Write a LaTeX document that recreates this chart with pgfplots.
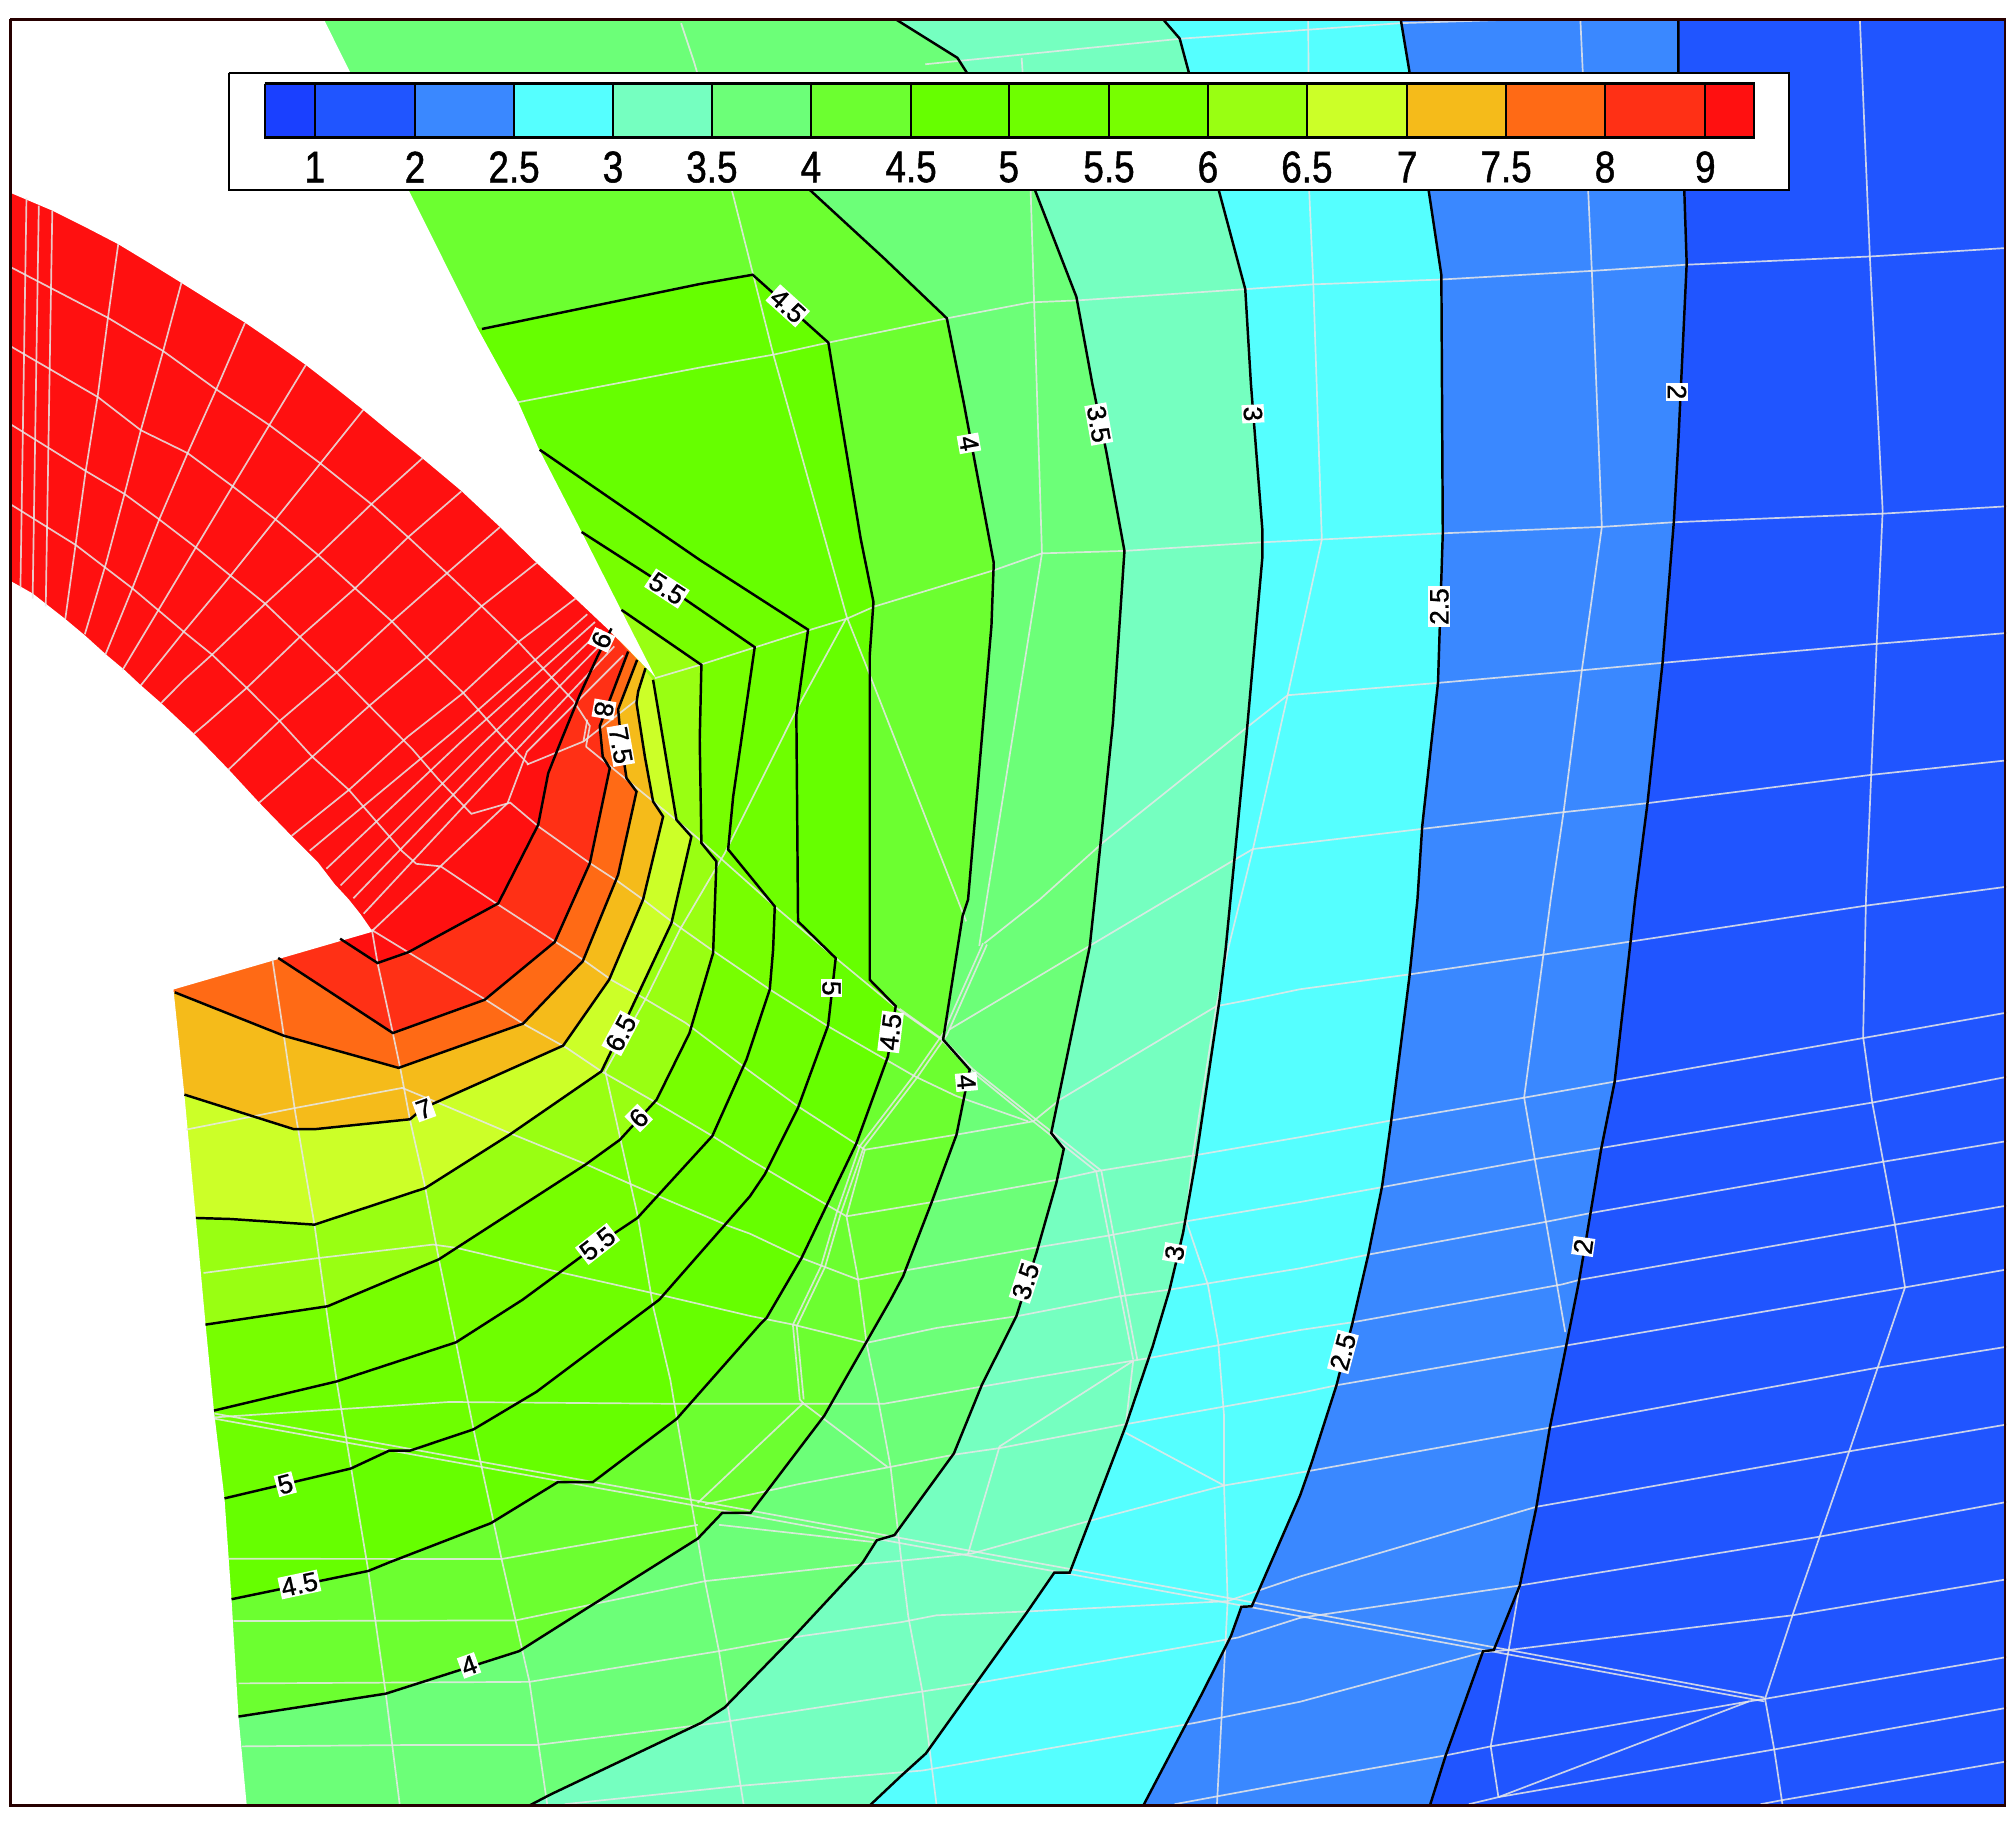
\documentclass[border=0pt]{standalone}
\usepackage{fontspec}
\setmainfont{Liberation Sans}
\newfontfamily\tickfont[FakeBold=1.2]{Liberation Sans}
\newfontfamily\labfont[FakeBold=1]{Liberation Sans}
\usepackage{pgfplots}
\pgfplotsset{compat=1.18}

\definecolor{cA}{HTML}{1A40FF}
\definecolor{cB}{HTML}{2055FF}
\definecolor{cC}{HTML}{3A88FF}
\definecolor{cD}{HTML}{55FFFF}
\definecolor{cE}{HTML}{75FFC0}
\definecolor{cF}{HTML}{6CFF78}
\definecolor{cG}{HTML}{6CFF30}
\definecolor{cH}{HTML}{66FF00}
\definecolor{cI}{HTML}{6EFF00}
\definecolor{cJ}{HTML}{77FF00}
\definecolor{cK}{HTML}{99FF12}
\definecolor{cL}{HTML}{CCFF28}
\definecolor{cM}{HTML}{F5BB1A}
\definecolor{cN}{HTML}{FF6A15}
\definecolor{cO}{HTML}{FF3015}
\definecolor{cP}{HTML}{FF1010}

% contour lines, in pixels of the 1568 wide view
\def\cii{(1306,15) (1306,56) (1310.7,150) (1312.5,205) (1306,344) (1302.5,406) (1293.7,516) (1282,625) (1272.4,700) (1268.8,733) (1256.4,842) (1245.8,895) (1235,960) (1228.7,997) (1219,1046) (1206,1111) (1195.4,1173.5) (1182.6,1234) (1162.4,1284) (1154,1285) (1125,1366) (1112.7,1405)}
\def\ciib{(1090,15) (1096.8,56) (1112,150) (1121.6,214) (1122.7,415) (1119,531) (1106.7,643) (1103,700) (1096.7,760.5) (1082.6,872) (1075.5,923) (1064.8,976) (1052.4,1029.6) (1040,1078) (1020.5,1138.7) (1011.6,1164) (979.8,1237) (974,1250) (966,1250.4) (957.9,1273) (936,1316.7) (889.7,1405)}
\def\ciii{(905,15) (918,30) (925,56) (948.4,148) (969,225) (973.4,298.6) (982.3,412) (982.3,434) (969.8,574) (953.7,739) (949,778) (931,900) (920.6,959.5) (910,1004) (897,1047.6) (876,1109.6) (847.7,1184) (832.4,1223.8) (820.4,1223.8) (799.6,1254) (758.7,1311) (720.5,1364.5) (701.4,1381.8) (676.8,1405)}
\def\ciiib{(697,15) (745,45) (752,56) (805.4,148) (837.6,231) (850,298.6) (860.8,351) (875,428.7) (866,562.6) (851.9,700) (848,736.5) (818,881.7) (827.8,894) (822,920.6) (806.5,975) (791,1024) (764,1077.8) (742.3,1131) (696,1194.6) (682.3,1198.6) (671.4,1215.8) (619.5,1271.6) (563.9,1328.7) (545.8,1340.6) (428.5,1396.4) (412,1405)}
\def\civ{(295,100) (600,120) (630.4,148) (687.5,200.6) (736.8,247.7) (750,313.7) (773.3,438) (771.5,487) (753.3,700) (749,713) (733.9,809) (754.6,832.4) (744.3,883) (724.8,936) (702.8,993) (693,1011.4) (641.4,1101.7) (584,1177.3) (562,1177.3) (543,1197.3) (458.5,1250.4) (404,1284.9) (300.2,1318) (185.6,1335.8)}
\def\civb{(375,256) (544.6,221) (585.7,213.8) (644.6,266.6) (669.7,419) (679.7,468.4) (676.8,509.8) (676.8,762.4) (697,783) (693.7,804) (691,822) (666.5,889.5) (623.7,979) (596.5,1025.6) (592,1030) (526.7,1104) (461.3,1153.4) (434,1153.4) (382,1185.3) (303,1215.8) (286.6,1222.5) (180.2,1244.5)}
\def\cv{(420,350) (544.5,435.7) (628.8,490) (619.7,556.3) (621,717) (650.3,745.6) (644.4,798) (621,862) (595,914) (583.5,931) (513,1011.4) (417.6,1083) (368.5,1112.3) (319.3,1128.8) (303,1128.8) (273,1142.8) (174.7,1166)}
\def\cvb{(452.6,414) (518.6,456.4) (587.3,503.6) (570.5,620) (566.6,661) (602.9,705.4) (601.6,739) (599,770) (580.8,824.7) (554.3,884) (496,947.8) (465,968.5) (406.7,1011.4) (354.8,1044.6) (262,1075) (166.5,1097.7)}
\def\cvi{(483.6,474.6) (545.8,517.4) (544.5,575.7) (545.8,656) (557.5,670.4) (554.9,741.7) (536.5,804) (511,855.7) (482.3,887) (456,906) (341.5,980) (255,1016.5) (159.9,1030.8)}
\def\cvib{(508.2,529) (526.4,638) (538,651) (522.5,718.3) (482.3,804) (468,833.7) (396.5,883) (331,924.5) (244.7,953) (179.2,948.6) (152.4,947.8)}
\def\cvii{(502.3,520) (496.6,538) (495.3,547) (501.8,588.7) (508.2,623.7) (516,635.4) (500.4,700) (474,762.4) (438.2,813.7) (329.6,862.2) (319,871) (246,878.6) (228.3,878.6) (143.5,851.8)}
\def\cviib{(495.8,513.5) (481,552) (483.6,579.6) (487.5,605.5) (495.3,616) (481,680.7) (453.5,748) (407,796.6) (310.2,831) (220.9,806) (136,772.2)}
\def\cviii{(488.8,507) (474.5,544.6) (466.7,565) (469,588.7) (474.5,597.8) (459,671.7) (431.7,733) (377.2,778) (305.7,803.9) (216.5,745.5)}
\def\cix{(475.8,489) (465.5,509.6) (451.2,540.7) (436.9,575.7) (426.6,601.7) (418.8,641.8) (387.7,703) (317.7,741) (293.8,749.4) (264.7,730.5)}

\newcommand{\pts}[2]{\edef\tmpplot{\noexpand\addplot[#1] coordinates {#2};}\tmpplot}
\newcommand{\band}[2]{\pts{fill=#1,draw=none,mark=none}{#2}}
\newcommand{\mesh}[1]{\addplot[draw=white!82!gray,opacity=.85,line width=.48pt,mark=none] coordinates {#1};}
\newcommand{\cont}[1]{\pts{draw=black,line width=.7pt,mark=none}{#1}}
\newcommand{\cell}[3]{\addplot[fill=#1,draw=black,line width=.6pt,mark=none] coordinates {(#2,65) (#3,65) (#3,107) (#2,107) (#2,65)};}
\newcommand{\lab}[4]{\node[fill=white,inner sep=.5pt,rotate=#3,font=\labfont\fontsize{7.5}{8}\selectfont] at (axis cs:#1,#2) {#4};}
\newcommand{\tic}[2]{\node[yscale=1.2,transform shape,font=\tickfont\fontsize{10.5}{12}\selectfont] at (axis cs:#1,130) {#2};}

\begin{document}
\begin{tikzpicture}
\begin{axis}[
    scale only axis,
    width=20.15cm,
    height=18.35cm,
    xmin=0, xmax=1568,
    ymin=0, ymax=1428,
    y dir=reverse,
    hide axis,
]
% white page, keeps the margin round the frame
\addplot[fill=white,draw=none,mark=none] coordinates {(0,0) (1568,0) (1568,1428) (0,1428) (0,0)};
% value bands, lowest first
\addplot[fill=cB,draw=none,mark=none] coordinates {(8,15) (1560,15) (1560,1405) (8,1405) (8,15)};
\band{cC}{\cii (8,1405) (8,15)}
\band{cD}{\ciib (8,1405) (8,15)}
\band{cE}{\ciii (8,1405) (8,15)}
\band{cF}{\ciiib (8,1405) (8,15)}
\band{cG}{\civ (8,1335.8) (8,100)}
\band{cH}{\civb (8,1244.5) (8,140) (200,140)}
\band{cI}{\cv (8,1166) (8,140) (200,140) (380,300)}
\band{cJ}{\cvb (8,1097.7) (8,140) (200,140) (380,350)}
\band{cK}{\cvi (8,1030.8) (8,140) (200,140) (380,380)}
\band{cL}{\cvib (8,947.8) (8,140) (200,140) (380,380)}
\band{cM}{\cvii (8,851.8) (8,140) (200,140) (380,380)}
\band{cN}{\cviib (8,772.2) (8,140) (200,140) (380,380)}
\band{cO}{\cviii (8,745.5) (8,140) (200,140) (380,380)}
\band{cP}{\cix (8,730.5) (8,140) (200,140) (380,380)}
% outside of the domain
\addplot[fill=white,draw=none,mark=none] coordinates {(8,15) (252,15) (319,150) (371.6,255.4) (403.3,313) (419,348.7) (452.6,414) (482.8,473.7) (510,527) (489,505.5) (473,489.6) (447.8,465.8) (417.6,438) (389,410) (359,382) (328.7,356.6) (305,337.5) (282.7,319) (260,301) (238,284) (214,267) (190.6,251) (165,235) (141,220) (116,204.5) (92,190) (66,176.5) (41,164) (8,150)};
\addplot[fill=white,draw=none,mark=none] coordinates {(8,452) (25.4,461.8) (50.8,481.7) (66,494.4) (82.6,509.4) (96.9,521.4) (109.6,533.3) (125.5,547.2) (150.9,571) (177.9,598.8) (201.7,624.6) (228.7,652.4) (247.7,671.4) (260.4,688) (271.5,700) (281,712) (290,725) (135,770) (143.5,852) (152.4,948) (160,1031) (166.5,1098) (174.7,1166) (180.2,1245) (185.6,1336) (192,1405) (8,1405)};

% grid, long way
\mesh{(720,50) (920,30) (1090,18) (1185,15)}
\mesh{(403,313) (544.6,286) (601.8,276) (644.6,266.6) (736.8,247.7) (801.9,235.3) (837.6,233.8) (969,225) (1021.6,221.3) (1121.6,217.5) (1238.7,210.8) (1312,206) (1455,199.6) (1561,193)}
\mesh{(509.5,527.8) (544.6,517.4) (586.8,504) (627.5,491) (658.9,481.5) (680.4,472) (773.3,443.8) (810.8,430.6) (875,428.7) (982,422) (1028.6,419.8) (1122.7,415) (1246.5,410) (1302.5,406.4) (1465,399.7) (1561.6,394)}
\mesh{(766,734) (809,700) (859,655) (969.8,566.4) (1002,541) (1118,531.5) (1230.9,521.6) (1293.7,515.8) (1460.4,501) (1561.6,492.6)}
\mesh{(739,801) (848,736) (959,670) (975,660.7) (1106.7,645) (1216.7,632) (1282,625) (1455.8,603) (1561.6,591.7)}
\mesh{(673,894.7) (744,883) (804,872.6) (824.6,855.8) (946.5,783) (972.5,778) (1011.6,769.8) (1098.5,758) (1201,742.9) (1268.8,732.7) (1451.6,704.8) (1561.6,690)}
\mesh{(658.7,946.5) (728.7,934.9) (823.4,918) (853,911.5) (932.3,898.6) (1011.6,884.9) (1082.6,871.9) (1186,854.2) (1256.4,841.7) (1449.8,807.8) (1561.6,788)}
\mesh{(667.8,995.8) (708,988) (805,971) (859.7,962) (923,950.4) (1011.6,935.4) (1075.5,923.8) (1194.3,902) (1249.3,892.8) (1456.9,858) (1561.6,838)}
\mesh{(674.3,1045) (728.7,1033.4) (791,1024.3) (871,1008.8) (910.2,1003.6) (1011.6,987) (1064.8,976.3) (1203,950.8) (1238.7,943.8) (1465.7,904) (1561.6,888)}
\mesh{(166.5,1103) (267.5,1096.4) (349.4,1091) (526.7,1092.4) (625,1092.4) (687.7,1092.4) (764,1079) (879,1059.3) (894.7,1056.7) (1011.6,1035) (1054.2,1028.7) (1215.6,999.5) (1229.8,995.8) (1474.6,953) (1561.6,938.2)}
\mesh{(548.6,1170.7) (622,1154.8) (693,1141.5) (742.3,1132) (777.8,1126.9) (876,1108.3) (1011.6,1084) (1040,1078) (1219,1047) (1482.4,1001.8) (1561.6,987.9)}
\mesh{(181.8,1261.5) (401.2,1261) (458.5,1249) (548.6,1230.4) (671.4,1217.2) (701.4,1214.5) (756,1209) (846,1184) (952.5,1156) (1018.7,1144.7) (1206.7,1110.8) (1460.4,1064.4) (1561.6,1048)}
\mesh{(185.6,1310) (412,1308.8) (559.5,1284.9) (625,1273) (701.4,1262.3) (728.7,1257) (799.6,1254) (955,1246) (1011.6,1226.8) (1195.4,1172.6) (1439,1129.4) (1561.6,1108.5)}
\mesh{(188.3,1359) (324.8,1357.9) (417.6,1357.9) (559.5,1340.6) (758.7,1310) (963.4,1274.3) (1011.6,1259) (1182.6,1233.8) (1416,1195.8) (1561.6,1168.8)}
\mesh{(439.4,1404) (575.9,1389.7) (717.8,1377.8) (930.6,1340.6) (1011.6,1324.3) (1154,1285.8) (1174,1284) (1394.8,1257) (1561.6,1229)}
\mesh{(914,1404) (1011.6,1386) (1125,1366) (1160,1359) (1361,1324) (1373.5,1322) (1561.6,1289.5)}
\mesh{(1143,1404) (1166,1398.5) (1380.6,1361.4) (1561.6,1329)}
\mesh{(1370,1404) (1387,1400.8) (1561.6,1370.7)}
\mesh{(1166,1398.5) (1361,1324)}
\mesh{(177.4,1213) (390.3,1213.2) (543,1186.6)}
\mesh{(559.5,1186.6) (679.6,1200)}
% the doubled lines
\mesh{(167,1100) (543,1168) (975,1247) (1373,1321)}
\mesh{(167,1104) (543,1172) (975,1251) (1373,1324)}
\mesh{(456,581) (526,638) (544.5,653.5) (602.9,705.4) (650.4,745.6) (697.6,784.5) (732.6,809) (754.6,832.4) (804,872.6) (853,911.5) (881.8,1058)}
\mesh{(700,785) (735,810) (757,832) (806,871) (857,911) (885,1058)}
\mesh{(765,734) (734,804) (710.6,837.6) (669,892) (651,944) (639,985) (617,1031) (622.4,1089) (625,1092)}
\mesh{(768,735) (737,805) (713.6,838.6) (672,893) (654,945) (642,986) (620,1032) (625.4,1089)}
% grid, across
\mesh{(1447.3,15.6) (1455,198.7) (1465,397.5) (1460.4,500) (1452,700) (1449.8,806.9) (1456.9,858) (1474.6,953) (1482.4,1001.8) (1439,1129.4) (1416,1195.8) (1394.8,1257) (1373.5,1322) (1380.6,1361.4) (1387,1404)}
\mesh{(1229.8,15.6) (1238.7,210.8) (1246.5,410) (1230.9,521.6) (1216.7,632) (1206.7,700) (1201,742.9) (1186,854) (1194.3,902) (1203,950.8) (1218,1036.6)}
\mesh{(1193.3,1182.8) (1182.6,1233.8) (1174,1284) (1160,1359) (1166,1398.5)}
\mesh{(1018,15) (1018.7,147) (1022,222) (1028.6,419.8) (1002,541) (975,660.7) (955.5,739) (946.5,783) (928,900) (923,950) (940,1000) (948,1045) (952.5,1101.7) (952.5,1156) (955.3,1246) (947,1404)}
\mesh{(876,1115) (952.5,1156)}
\mesh{(881.8,1059) (876,1109)}
\mesh{(881.8,1059) (777.8,1125.6) (753.3,1209.2)}
\mesh{(530,18) (540,48) (570,150) (601.8,276) (658.9,480) (676.8,525) (751.8,717)}
\mesh{(795,45) (802,148) (810.8,430.6) (762,736)}
\mesh{(658.6,481) (619.7,552.4) (564,663.9) (529,723.5) (503.7,775) (471,833.7) (482.9,887) (496.3,946.5) (508.2,1016.5) (521.6,1073.6) (526.7,1104) (548.6,1230.4) (559.5,1285) (578.6,1404)}
\mesh{(673,894.7) (658.7,946.5) (667.8,995.8) (674.3,1045) (683.3,1089) (693,1141.5) (701.4,1214.5) (706.8,1258) (717.8,1316.7) (728.7,1404)}
\mesh{(212,746.8) (220.9,806) (229.8,866) (244.7,953) (253.6,1016.5) (262,1075) (286.6,1222.5) (300.2,1318) (311,1404)}
\mesh{(289.4,723.5) (293.8,749.4) (305.7,803.9) (311.7,832.4) (319,871.3) (331,924.5) (341.5,980) (354.9,1045) (368.5,1112.3) (390.3,1213.2) (401.2,1261) (412,1308.8) (425.8,1404)}
\mesh{(543,1169.5) (625,1092) (690.5,1141.5)}
% grid in the middle, from the blade outwards
\mesh{(418.8,643) (459,671.7) (481,686) (500.4,700) (522.5,717) (555,740) (599,770) (644.4,798.7) (711.9,837.6) (744.3,853) (800,872.6)}
\mesh{(387.7,704) (431.7,732.6) (453.8,746.9) (475.5,762.4) (500.7,776.6) (533.5,796) (583.5,833.7) (621,861) (673,894.7)}
\mesh{(289,723.5) (317.7,741) (375.7,776.6) (407,796.6) (441,815.5) (468,833.7) (511,858.3) (554.3,884) (583.5,902.4) (640.6,936) (658.7,946.5)}
\mesh{(145,879) (229.8,862.2) (313,846.6) (344.4,859.6) (396.5,881.7) (456,906) (488.8,920.6) (512.7,931) (567.7,954.3) (583.5,960) (623.7,979) (667.8,995.8)}
\mesh{(158.4,990.6) (247.7,979) (337,968.5) (354.9,971) (432.3,989.3) (506.7,1006) (583.5,1024) (617.2,1030.8) (674.3,1045)}
% grid in the blade
\mesh{(8,207.7) (84.2,247.4) (127,273.2) (168.3,303) (209.6,330.8) (249.3,360.6) (289,392.3) (317.6,418) (347.8,446) (374.8,471.7) (403.4,499.5) (425.6,523.3) (446.2,545.2) (459,565) (456,581)}
\mesh{(8,269.3) (76.2,309) (109.6,334.8) (146,352.6) (181,378.4) (214.4,404.2) (247.7,432) (276.3,457.8) (305,483.6) (332,511.4) (360.5,539.2) (390.6,573) (411.3,594.8)}
\mesh{(8,330) (66.7,366.5) (96.9,384.4) (123.9,404.2) (152.4,426) (179.4,448) (206.4,469.8) (233.4,495.6) (262,523.3) (287.4,549.2) (320.8,582.9) (341.4,606.7) (366.8,633.3) (397,624.6) (418.8,643)}
\mesh{(8,392.3) (58.8,424) (103,457.8) (143,491.6) (165,509.4) (192,535.3) (217.6,561) (243,588.9) (271.5,614.7) (292.2,638.5) (312.8,662.3) (324,672.2) (343,674.2) (387.5,704)}
\mesh{(20.6,154) (15.9,457.9)}
\mesh{(30.2,160) (25.4,465.8)}
\mesh{(40.7,164) (35.6,471.8)}
\mesh{(92,190) (84,247.4) (76.2,307) (66.7,366.5) (58.8,424) (50.8,481.7)}
\mesh{(141.3,219.6) (127,273) (109.6,334.8) (96.9,384.4) (82.6,438) (66,493.6)}
\mesh{(190.6,251.4) (168.3,303) (146,352.6) (123.9,404.2) (103,457.8) (82,509.4)}
\mesh{(238,284) (209.6,330.8) (181,378.4) (152.4,426) (123.9,473.7) (95.3,521.4)}
\mesh{(282.7,318.9) (249.3,360.6) (214.4,404.2) (179.4,448) (143,491.6) (109.6,533.3)}
\mesh{(328.7,356.6) (289,392.3) (247.7,432) (206.4,469.8) (165,509.4) (143,529.3) (125.5,547)}
\mesh{(358.9,382.4) (317.6,418) (276.3,457.8) (233.4,495.6) (192,535.3) (160.4,563) (150.9,571)}
\mesh{(389,410.2) (347.8,446) (305,483.6) (262,523.3) (217.6,561) (177.9,598.8)}
\mesh{(417.6,438) (374.8,471.7) (332,511.4) (287.4,549.2) (243,588.9) (201.7,624.6)}
\mesh{(447.8,465.8) (403.4,499.5) (360.5,539.2) (317.6,573) (271.5,614.7) (227,650.4)}
\mesh{(457,478) (352,570) (241,662)}
\mesh{(463,484) (358,578) (254,676)}
\mesh{(468,490) (372,582) (265,689)}
\mesh{(473,496) (382,588) (275,699)}
\mesh{(478,503) (392,594) (283,711)}
\mesh{(485,510) (410,585) (395,625) (345,672) (290,724)}
\mesh{(495,545) (454,577) (410,595)}
\mesh{(457,560) (454,577)}

% contour lines
\cont{\cii}
\cont{\ciib}
\cont{\ciii}
\cont{\ciiib}
\cont{\civ}
\cont{\civb}
\cont{\cv}
\cont{\cvb}
\cont{\cvi}
\cont{\cvib}
\cont{\cvii}
\cont{\cviib}
\cont{\cviii}
\cont{\cix}
% frame
\addplot[draw=black!85!red,line width=.7pt,mark=none] coordinates {(8,15) (1560,15) (1560,1405) (8,1405) (8,15)};

% contour labels
\lab{613}{238}{-42}{4.5}
\lab{754}{345}{-80}{4}
\lab{855}{330}{-80}{3.5}
\lab{975}{322}{-87}{3}
\lab{1305}{305}{-90}{2}
\lab{1120}{472}{90}{2.5}
\lab{519}{458}{-33}{5.5}
\lab{468}{498}{-115}{9}
\lab{470}{552}{-100}{8}
\lab{483}{580}{-80}{7.5}
\lab{483}{804}{62}{6.5}
\lab{330}{863}{20}{7}
\lab{497}{870}{45}{6}
\lab{465}{968}{38}{5.5}
\lab{647}{769}{-90}{5}
\lab{693}{803}{83}{4.5}
\lab{752}{842}{-85}{4}
\lab{798}{997}{72}{3.5}
\lab{914}{975}{80}{3}
\lab{1045}{1052}{75}{2.5}
\lab{1232}{970}{82}{2}
\lab{222}{1155}{15}{5}
\lab{233}{1233}{12}{4.5}
\lab{365}{1296}{20}{4}

% legend
\addplot[fill=white,draw=black,line width=.7pt,mark=none] coordinates {(178,57) (1392,57) (1392,148) (178,148) (178,57)};
\cell{cA}{206}{245}
\cell{cB}{245}{323}
\cell{cC}{323}{400}
\cell{cD}{400}{477}
\cell{cE}{477}{554}
\cell{cF}{554}{631}
\cell{cG}{631}{709}
\cell{cH}{709}{785}
\cell{cI}{785}{863}
\cell{cJ}{863}{940}
\cell{cK}{940}{1017}
\cell{cL}{1017}{1095}
\cell{cM}{1095}{1172}
\cell{cN}{1172}{1249}
\cell{cO}{1249}{1327}
\cell{cP}{1327}{1365}
\tic{245}{1}
\tic{323}{2}
\tic{400}{2.5}
\tic{477}{3}
\tic{554}{3.5}
\tic{631}{4}
\tic{709}{4.5}
\tic{785}{5}
\tic{863}{5.5}
\tic{940}{6}
\tic{1017}{6.5}
\tic{1095}{7}
\tic{1172}{7.5}
\tic{1249}{8}
\tic{1327}{9}
\end{axis}
\end{tikzpicture}
\end{document}
